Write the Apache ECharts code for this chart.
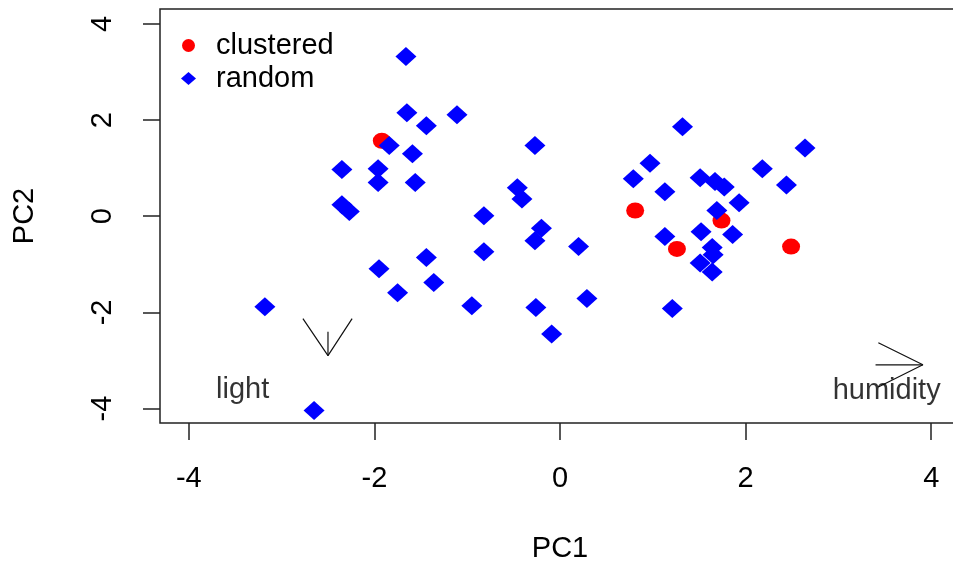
<!DOCTYPE html>
<html>
<head>
<meta charset="utf-8">
<script src="https://cdn.jsdelivr.net/npm/echarts@6/dist/echarts.min.js"></script>
<style>
html,body{margin:0;padding:0;background:#fff;}
#chart{width:953px;height:563px;}
</style>
</head>
<body>
<div id="chart"></div>
<script>
// ---- data ----
const seriesNames = ['clustered', 'random'];
const clusteredPC1 = [-1.92, 0.81, 1.74, 1.26, 2.49];
const clusteredPC2 = [1.57, 0.12, -0.09, -0.68, -0.63];
const randomPC1 = [-1.66, -1.65, -1.44, -1.11, -1.84, -1.59, -2.35, -1.96, -1.96, -1.56,
  -2.35, -2.27, -0.27, -0.46, -0.41, -0.82, -0.20, -0.27, -0.82, -1.44,
  -1.95, -1.36, -1.75, -3.18, -0.95, -0.26, -0.09, -2.65, 0.20, 0.29,
  1.21, 1.13, 1.52, 1.86, 1.69, 1.93, 1.64, 1.65, 1.51, 1.64,
  1.32, 2.64, 0.97, 0.79, 1.13, 1.51, 1.67, 1.77, 2.18, 2.44];
const randomPC2 = [3.32, 2.15, 1.88, 2.11, 1.47, 1.30, 0.97, 0.99, 0.70, 0.70,
  0.24, 0.10, 1.47, 0.59, 0.36, 0.01, -0.25, -0.51, -0.74, -0.86,
  -1.09, -1.38, -1.59, -1.88, -1.86, -1.90, -2.45, -4.04, -0.63, -1.71,
  -1.92, -0.42, -0.32, -0.38, 0.12, 0.28, -0.65, -0.80, -0.97, -1.16,
  1.86, 1.42, 1.10, 0.78, 0.51, 0.80, 0.72, 0.61, 0.99, 0.65];
const tickValues = [-4, -2, 0, 2, 4];
// loading arrows (head wing, tip, other wing) and stems
const arrowNames = ['light', 'humidity'];
const arrowHeadX = [[-2.77, -2.5, -2.24], [3.43, 3.91, 3.43]];
const arrowHeadY = [[-2.13, -2.90, -2.13], [-2.63, -3.09, -3.55]];
const arrowStemX = [[-2.5, -2.5], [3.40, 3.91]];
const arrowStemY = [[-2.40, -2.90], [-3.09, -3.09]];
const arrowLabelX = [-3.42, 3.52];
const arrowLabelY = [-3.62, -3.64];

const zip = (a, b) => a.map((v, i) => [v, b[i]]);
const FONT = 'Liberation Sans, Arial, Helvetica, sans-serif';
const FS = 29;
const INK = '#000';

const series = [
  {
    name: 'clustered', type: 'scatter', symbol: 'circle', symbolSize: [18, 16],
    itemStyle: { color: '#ff0000', opacity: 1 }, z: 3,
    data: zip(clusteredPC1, clusteredPC2)
  },
  {
    name: 'random', type: 'scatter', symbol: 'diamond', symbolSize: [21, 19],
    itemStyle: { color: '#0000ff', opacity: 1 }, z: 4,
    data: zip(randomPC1, randomPC2)
  }
];
arrowNames.forEach((n, i) => {
  series.push({
    type: 'line', showSymbol: false, silent: true, z: 5,
    lineStyle: { color: '#111', width: 1.2 },
    data: zip(arrowHeadX[i], arrowHeadY[i])
  });
  series.push({
    type: 'line', showSymbol: false, silent: true, z: 5,
    lineStyle: { color: '#111', width: 1.2 },
    data: zip(arrowStemX[i], arrowStemY[i])
  });
});
series.push({
  type: 'scatter', symbolSize: 0, silent: true, z: 6,
  label: {
    show: true, position: 'inside', formatter: p => p.name,
    color: INK, fontSize: FS, fontFamily: FONT
  },
  data: arrowNames.map((n, i) => ({ name: n, value: [arrowLabelX[i], arrowLabelY[i]] }))
});

const chart = echarts.init(document.getElementById('chart'));
chart.setOption({
  backgroundColor: '#fff',
  animation: false,
  grid: {
    left: 160, top: 9, width: 800, height: 414,
    outerBoundsMode: 'none', containLabel: false,
    show: true, borderColor: '#222', borderWidth: 1.5, backgroundColor: 'transparent'
  },
  legend: {
    data: [
      { name: 'clustered', icon: 'circle' },
      { name: 'random', icon: 'diamond' }
    ],
    orient: 'vertical', left: 176, top: 24,
    itemWidth: 15, itemHeight: 13, itemGap: 0,
    selectedMode: false,
    textStyle: { fontSize: FS, fontFamily: FONT, color: INK, lineHeight: 33, padding: [0, 0, 0, 15] }
  },
  xAxis: {
    type: 'value', min: -4.31, max: 4.31,
    name: 'PC1', nameLocation: 'middle', nameGap: 111,
    nameTextStyle: { fontSize: FS, fontFamily: FONT, color: INK },
    splitLine: { show: false },
    axisLine: { show: false, onZero: false },
    axisTick: { show: true, inside: false, length: 17, customValues: tickValues,
      lineStyle: { color: '#222', width: 1.5 } },
    axisLabel: { customValues: tickValues, margin: 41, fontSize: FS, fontFamily: FONT, color: INK }
  },
  yAxis: {
    type: 'value', min: -4.3, max: 4.31,
    name: 'PC2', nameLocation: 'middle', nameGap: 121, nameRotate: 90,
    nameTextStyle: { fontSize: FS, fontFamily: FONT, color: INK },
    splitLine: { show: false },
    axisLine: { show: false, onZero: false },
    axisTick: { show: true, inside: false, length: 17, customValues: tickValues,
      lineStyle: { color: '#222', width: 1.5 } },
    axisLabel: { customValues: tickValues, rotate: 90, margin: 43, fontSize: FS, fontFamily: FONT, color: INK }
  },
  series: series
});
</script>
</body>
</html>
